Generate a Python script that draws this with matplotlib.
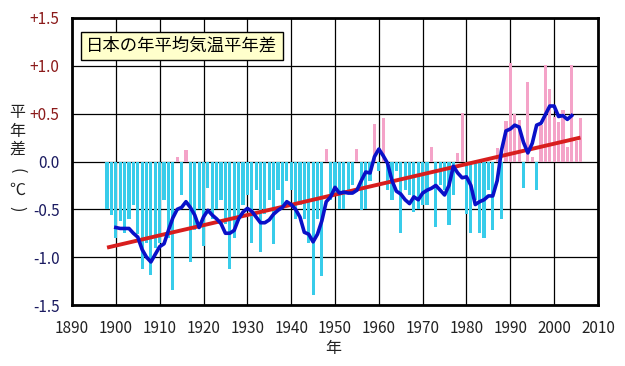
import matplotlib
matplotlib.use("Agg")
import matplotlib.pyplot as plt
import numpy as np

plt.rcParams['font.family'] = ['Noto Sans CJK JP', 'DejaVu Sans']

# ---- data ----
years = list(range(1898, 2007))
anomaly = [
    -0.50, -0.56, -0.80, -0.62, -0.75, -0.60, -0.45, -0.76, -1.12, -0.85,   # 1898-1907
    -1.19, -0.90, -0.85, -0.40, -0.80, -1.34, 0.05, -0.35, 0.12, -1.05,     # 1908-1917
    -0.72, -0.50, -0.88, -0.28, -0.60, -0.50, -0.40, -0.65, -1.12, -0.80,   # 1918-1927
    -0.62, -0.45, -0.35, -0.85, -0.30, -0.95, -0.55, -0.40, -0.86, -0.30,   # 1928-1937
    -0.45, -0.20, -0.30, -0.60, -0.45, -0.60, -0.85, -1.40, -0.60, -1.20,   # 1938-1947
    0.13, -0.40, -0.35, -0.50, -0.50, -0.30, -0.25, 0.13, -0.51, -0.50,     # 1948-1957
    -0.20, 0.39, -0.10, 0.45, -0.30, -0.40, -0.10, -0.75, -0.30, -0.35,     # 1958-1967
    -0.53, -0.50, -0.45, -0.45, 0.15, -0.68, -0.25, -0.30, -0.66, -0.35,    # 1968-1977
    0.09, 0.51, -0.55, -0.75, -0.40, -0.75, -0.80, -0.30, -0.72, 0.14,      # 1978-1987
    -0.60, 0.42, 1.03, 0.50, 0.43, -0.28, 0.83, 0.05, -0.30, 0.38,          # 1988-1997
    1.01, 0.76, 0.47, 0.41, 0.54, 0.15, 1.01, 0.21, 0.45,                   # 1998-2006
]

ma_years = list(range(1900, 2005))
moving_avg = [
    -0.69, -0.70, -0.70, -0.70, -0.75, -0.79, -0.92, -1.00, -1.05, -0.97,   # 1900-1909
    -0.89, -0.86, -0.72, -0.59, -0.50, -0.48, -0.42, -0.48, -0.56, -0.69,   # 1910-1919
    -0.58, -0.51, -0.56, -0.60, -0.65, -0.75, -0.75, -0.72, -0.60, -0.53,   # 1920-1929
    -0.49, -0.52, -0.58, -0.64, -0.64, -0.61, -0.55, -0.51, -0.48, -0.42,   # 1930-1939
    -0.45, -0.50, -0.58, -0.74, -0.76, -0.84, -0.76, -0.62, -0.42, -0.37,   # 1940-1949
    -0.27, -0.33, -0.32, -0.33, -0.33, -0.30, -0.20, -0.11, -0.12, 0.05,    # 1950-1959
    0.13, 0.06, -0.02, -0.20, -0.31, -0.34, -0.40, -0.44, -0.37, -0.40,     # 1960-1969
    -0.33, -0.30, -0.28, -0.25, -0.30, -0.35, -0.25, -0.05, -0.12, -0.17,   # 1970-1979
    -0.16, -0.25, -0.45, -0.42, -0.40, -0.36, -0.36, -0.20, 0.12, 0.32,     # 1980-1989
    0.34, 0.38, 0.36, 0.20, 0.09, 0.19, 0.38, 0.40, 0.49, 0.58,             # 1990-1999
    0.58, 0.47, 0.48, 0.44, 0.48,                                           # 2000-2004
]

trend_years = [1898, 2006]
trend_vals = [-0.90, 0.25]

x_ticks = list(range(1890, 2011, 10))
y_ticks = [-1.5, -1.0, -0.5, 0.0, 0.5, 1.0, 1.5]
y_labels = ['-1.5', '-1.0', '-0.5', '0.0', '+0.5', '+1.0', '+1.5']
title = '日本の年平均気温平年差'

# ---- figure ----
fig = plt.figure(figsize=(6.25, 3.66), dpi=100)
ax = fig.add_axes([72/625, 1-305/366, (598-72)/625, (305-18)/366])

pink = '#F4A3C8'
cyan = '#38CCEA'
colors = [pink if v > 0 else cyan for v in anomaly]
ax.bar(years, anomaly, width=0.72, color=colors, zorder=2, linewidth=0)
ax.plot(ma_years, moving_avg, color='#0A10C8', lw=2.6, zorder=4)
ax.plot(trend_years, trend_vals, color='#D81E1E', lw=2.8, zorder=3, solid_capstyle='butt')

ax.set_xlim(1890, 2010)
ax.set_ylim(-1.5, 1.5)
ax.set_xticks(x_ticks)
ax.set_yticks(y_ticks)
ax.set_yticklabels(y_labels)
ax.grid(True, color='black', lw=0.9, zorder=0)
ax.set_axisbelow(True)
ax.tick_params(length=0, labelsize=11)
ax.tick_params(axis='x', pad=11)
ax.tick_params(axis='y', pad=9)
for lbl, v in zip(ax.get_yticklabels(), y_ticks):
    lbl.set_color('#8B1A1A' if v > 0 else '#1A1A60')
for lbl in ax.get_xticklabels():
    lbl.set_color('#222222')
for s in ax.spines.values():
    s.set_linewidth(2.0)
    s.set_color('black')

ax.text(1893.3, 1.21, title, fontsize=12.5, ha='left', va='center', zorder=6,
        bbox=dict(boxstyle='square,pad=0.3', fc='#FFFFCC', ec='black', lw=1.0))

fig.text(333/625, 1-348/366, '年', ha='center', va='center', fontsize=11.5, color='#222222')

ylab = ['平', '年', '差', '(', '℃', ')']
yrot = [0, 0, 0, -90, 0, -90]
ypos = [113, 131, 149, 171, 190, 209]
for ch, rot, yp in zip(ylab, yrot, ypos):
    fig.text(17/625, 1-yp/366, ch, ha='center', va='center', fontsize=11.5,
             color='#222222', rotation=rot)

fig.savefig('out.png', dpi=100, facecolor='white')
